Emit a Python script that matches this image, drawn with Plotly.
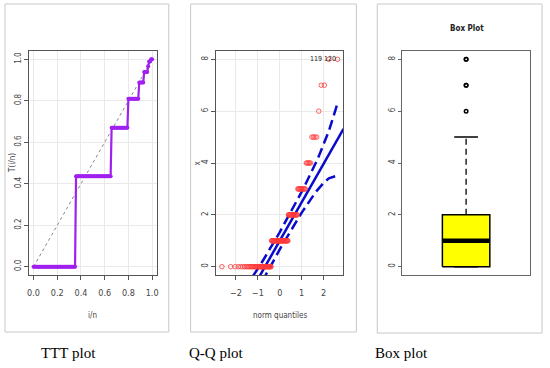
import numpy as np
import plotly.graph_objects as go
from statistics import NormalDist

# ---------------- data ----------------
values = [0, 1, 2, 3, 4, 5, 6, 7, 8]          # observed count values
counts = [42, 36, 17, 11, 5, 4, 1, 2, 2]      # frequency of each value (n = 120)
id_labels = ["119", "120"]                    # labelled extreme points (Q-Q plot)
ttt_ticks = [0.0, 0.2, 0.4, 0.6, 0.8, 1.0]
qq_xticks = [-2, -1, 0, 1, 2]
y_ticks = [0, 2, 4, 6, 8]
captions = ["TTT plot", "Q-Q plot", "Box plot"]

x = np.sort(np.repeat(values, counts)).astype(float)
n = len(x)

# ---------------- derived quantities ----------------
# scaled TTT transform
cs = np.cumsum(x)
i = np.arange(1, n + 1)
T = (cs + (n - i) * x) / cs[-1]
ttt_u = np.concatenate([[0.0], i / n])
ttt_T = np.concatenate([[0.0], T])

# normal Q-Q with robust line and pointwise envelope (car::qqPlot style)
nd = NormalDist()
P = (i - 0.5) / n
z = np.array([nd.inv_cdf(p) for p in P])
q1, med, q3 = np.percentile(x, [25, 50, 75])
slope = (q3 - q1) / (nd.inv_cdf(0.75) - nd.inv_cdf(0.25))
intercept = q1 - slope * nd.inv_cdf(0.25)
dens = np.array([nd.pdf(v) for v in z])
SE = (slope / dens) * np.sqrt(P * (1 - P) / n)
fit = intercept + slope * z
zz = nd.inv_cdf(0.975)
upper = fit + zz * SE
lower = fit - zz * SE

# box plot statistics
iqr = q3 - q1
up_whisk = x[x <= q3 + 1.5 * iqr].max()
lo_whisk = x[x >= q1 - 1.5 * iqr].min()
outl = x[(x > up_whisk) | (x < lo_whisk)]

# ---------------- layout helpers ----------------
W, H = 550, 368
def xd(a, b):
    return [a / W, b / W]
def yd(top, bottom):
    return [1 - bottom / H, 1 - top / H]
def px(v):
    return v / W
def py(v):
    return 1 - v / H

NARROW = "Liberation Sans Narrow, DejaVu Sans Condensed, Arial Narrow, Liberation Sans, Arial"
tick_font = dict(family=NARROW, size=9, color="#444")
ytick_font = dict(family=NARROW, size=8, color="#444")
BLUE = "#0A0ACD"

fig = go.Figure()

# ---- TTT plot ----
fig.add_trace(go.Scatter(x=[0, 1], y=[0, 1], mode="lines",
                         line=dict(color="#888", width=1, dash="3px,3px"),
                         xaxis="x", yaxis="y", showlegend=False, hoverinfo="skip"))
fig.add_trace(go.Scatter(x=ttt_u, y=ttt_T, mode="lines+markers",
                         line=dict(color="#A020F0", width=2.2),
                         marker=dict(color="#A020F0", size=4),
                         xaxis="x", yaxis="y", showlegend=False))

# ---- Q-Q plot ----
xr2 = [-2.89, 2.91]
fig.add_trace(go.Scatter(x=xr2, y=[intercept + slope * v for v in xr2], mode="lines",
                         line=dict(color=BLUE, width=2.5),
                         xaxis="x2", yaxis="y2", showlegend=False))
fig.add_trace(go.Scatter(x=z, y=upper, mode="lines",
                         line=dict(color=BLUE, width=2.5, dash="10px,5px"),
                         xaxis="x2", yaxis="y2", showlegend=False))
fig.add_trace(go.Scatter(x=z, y=lower, mode="lines",
                         line=dict(color=BLUE, width=2.5, dash="10px,5px"),
                         xaxis="x2", yaxis="y2", showlegend=False))
fig.add_trace(go.Scatter(x=z, y=x, mode="markers",
                         marker=dict(symbol="circle-open", color="#FF3838", size=4.5,
                                     line=dict(width=0.8, color="#FF3838")),
                         xaxis="x2", yaxis="y2", showlegend=False))
# point labels, placed to the left of their points
lab_font = dict(family=NARROW, size=7, color="#222")
for k, (lab, shift) in enumerate(zip(id_labels, [-6, -1])):
    fig.add_annotation(x=z[n - 2 + k], y=x[n - 2 + k], xref="x2", yref="y2",
                       text=lab, showarrow=False, xanchor="right", yanchor="middle",
                       xshift=shift, font=lab_font, borderpad=0)

# ---- Box plot ----
bw = 0.2
fig.add_trace(go.Scatter(x=[1 - bw, 1 + bw, 1 + bw, 1 - bw, 1 - bw],
                         y=[q1, q1, q3, q3, q1], mode="lines", fill="toself",
                         fillcolor="#FFFF00", line=dict(color="black", width=1.5),
                         xaxis="x3", yaxis="y3", showlegend=False))
fig.add_trace(go.Scatter(x=[1 - bw, 1 + bw], y=[med, med], mode="lines",
                         line=dict(color="black", width=4.5),
                         xaxis="x3", yaxis="y3", showlegend=False))
fig.add_trace(go.Scatter(x=[1, 1, None, 1, 1], y=[q3, up_whisk, None, q1, lo_whisk],
                         mode="lines", line=dict(color="black", width=1.3, dash="6px,4px"),
                         xaxis="x3", yaxis="y3", showlegend=False))
fig.add_trace(go.Scatter(x=[1 - bw / 2, 1 + bw / 2, None, 1 - bw / 2, 1 + bw / 2],
                         y=[up_whisk, up_whisk, None, lo_whisk, lo_whisk],
                         mode="lines", line=dict(color="black", width=1.6),
                         xaxis="x3", yaxis="y3", showlegend=False))
fig.add_trace(go.Scatter(x=np.ones(len(outl)), y=outl, mode="markers",
                         marker=dict(symbol="circle-open", color="black", size=3.5,
                                     line=dict(width=1.5, color="black")),
                         xaxis="x3", yaxis="y3", showlegend=False))

axis_common = dict(showline=True, mirror=True, linecolor="#555", linewidth=1,
                   ticks="outside", ticklen=4, tickcolor="#555", zeroline=False,
                   gridcolor="#E9E9E9", gridwidth=1)

fig.update_layout(
    width=W, height=H, margin=dict(l=0, r=0, t=0, b=0),
    paper_bgcolor="white", plot_bgcolor="white",
    xaxis=dict(domain=xd(27, 156), range=[-0.04, 1.04], tickvals=ttt_ticks,
               ticktext=[f"{v:.1f}" for v in ttt_ticks], tickfont=tick_font,
               ticklabelstandoff=5, showgrid=True, anchor="y", **axis_common),
    yaxis=dict(domain=yd(51, 275), range=[-0.04, 1.04], tickvals=ttt_ticks,
               ticktext=[f"{v:.1f}" for v in ttt_ticks], tickfont=ytick_font,
               tickangle=-90, showgrid=True, anchor="x", **axis_common),
    xaxis2=dict(domain=xd(216, 344), range=xr2, tickvals=qq_xticks, tickfont=tick_font,
                ticklabelstandoff=5, showgrid=True, anchor="y2", **axis_common),
    yaxis2=dict(domain=yd(51, 275), range=[-0.32, 8.32], tickvals=y_ticks,
                tickfont=ytick_font, tickangle=-90, showgrid=True, anchor="x2", **axis_common),
    xaxis3=dict(domain=xd(403, 532), range=[0.46, 1.54], showticklabels=False,
                showline=True, mirror=True, linecolor="#666", linewidth=1, ticks="",
                showgrid=False, zeroline=False, anchor="y3"),
    yaxis3=dict(domain=yd(51, 275), range=[-0.32, 8.32], tickvals=y_ticks,
                tickfont=ytick_font, tickangle=-90, showline=True, mirror=True,
                linecolor="#666", linewidth=1, ticks="outside", ticklen=3,
                tickcolor="#666", showgrid=False, zeroline=False, anchor="x3"),
)

# outer panel frames
for (a, t, b, btm) in [(3, 4, 168, 332), (190, 4, 357, 332), (378, 4, 544, 333)]:
    fig.add_shape(type="rect", xref="paper", yref="paper",
                  x0=px(a), x1=px(b), y0=py(btm), y1=py(t),
                  line=dict(color="#C8C8C8", width=1), fillcolor="rgba(0,0,0,0)", layer="below")

title_font = dict(family=NARROW, size=8, color="#444")
ann = [
    dict(text="i/n", x=px(91), y=py(315), font=title_font),
    dict(text="T(i/n)", x=px(10), y=py(163), textangle=-90, font=title_font),
    dict(text="norm quantiles", x=px(280), y=py(315), font=title_font),
    dict(text="x", x=px(196), y=py(163), textangle=-90, font=title_font),
    dict(text="<b>Box Plot</b>", x=px(468), y=py(28),
         font=dict(family=NARROW, size=8, color="#222")),
]
for a in ann:
    fig.add_annotation(xref="paper", yref="paper", showarrow=False,
                       xanchor="center", yanchor="middle", **a)
for cap, left in zip(captions, [37, 186, 374]):
    fig.add_annotation(text=cap, xref="paper", yref="paper", x=px(left), y=py(353),
                       xanchor="left", yanchor="middle", showarrow=False,
                       font=dict(family="Liberation Serif, Times New Roman, serif",
                                 size=15, color="black"))

fig.write_html("out.html", config={"displayModeBar": False},
               post_script="document.body.style.margin='0';")
